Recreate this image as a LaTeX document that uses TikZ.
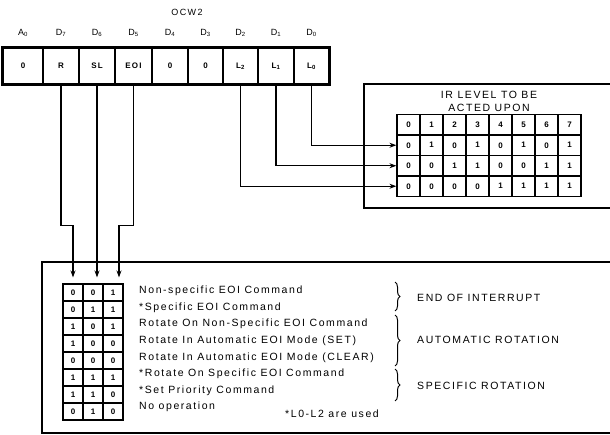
\documentclass[tikz,border=0pt]{standalone}
\usepackage{fontspec}
\setmainfont[LetterSpace=15]{Liberation Sans}
\usetikzlibrary{arrows.meta,decorations.pathreplacing}
\begin{document}
\begin{tikzpicture}[x=1pt,y=-1pt,
  reg/.style={draw, line width=1.2pt, minimum height=36pt, inner sep=0pt, font=\fontsize{8}{9}\selectfont\bfseries},
  lab/.style={font=\fontsize{9}{10}\selectfont, inner sep=0pt},
  gcell/.style={draw, line width=1.2pt, minimum width=23pt, minimum height=20.5pt, inner sep=0pt, font=\fontsize{8}{9}\selectfont\bfseries},
  scell/.style={draw, line width=1.1pt, minimum width=20pt, minimum height=17pt, inner sep=0pt, font=\fontsize{8}{9}\selectfont\bfseries},
  conn/.style={line width=1.2pt, -{Stealth[length=7pt,width=5pt]}},
  frame/.style={line width=2pt},
  txt/.style={font=\fontsize{10.5}{12}\selectfont, anchor=west, inner sep=0pt},
  ttl/.style={font=\fontsize{10.5}{12}\selectfont, inner sep=0pt},
  brace/.style={decorate, decoration={brace, amplitude=5pt}, line width=1pt}
]
\useasboundingbox (0,0) rectangle (610,435);

% OCW2 register
\node[lab] (title) at (187,12) {OCW2};
\foreach \nm/\cx/\w/\t/\h in {
  A0/23/40/0/A\textsubscript{0},
  R/61/36/R/D\textsubscript{7},
  SL/97/36/SL/D\textsubscript{6},
  EOI/133.5/37/EOI/D\textsubscript{5},
  D4/170/36/0/D\textsubscript{4},
  D3/205.5/35/0/D\textsubscript{3},
  L2/240.5/35/L\textsubscript{2}/D\textsubscript{2},
  L1/276/36/L\textsubscript{1}/D\textsubscript{1},
  L0/311.5/35/L\textsubscript{0}/D\textsubscript{0}}{
  \node[reg, minimum width=\w pt] (\nm) at (\cx,66) {\t};
  \node[lab] (h\nm) at (\cx,33) {\h};
}
\draw[frame] (A0.north west) rectangle (L0.south east);

% IR level box
\draw[frame] (610,84) -- (364,84) -- (364,208) -- (610,208);
\node[ttl] (irt1) at (489,95) {IR LEVEL TO BE};
\node[ttl] (irt2) at (489,108) {ACTED UPON};
\foreach \c in {0,...,7}{
  \node[gcell] (t0\c) at ({408.5+23*\c},124.75) {\c};
}
\foreach \r/\y/\v in {1/145.25/{0,1,0,1,0,1,0,1}, 2/165.75/{0,0,1,1,0,0,1,1}, 3/186.25/{0,0,0,0,1,1,1,1}}{
  \foreach \val [count=\c from 0] in \v {
    \node[gcell] (t\r\c) at ({408.5+23*\c},\y) {\val};
  }
}

% bottom box
\draw[frame] (610,262) -- (42,262) -- (42,432.5) -- (610,432.5);
\foreach \k/\a/\b/\cc/\t in {
  1/0/0/1/Non-specific EOI Command,
  2/0/1/1/*Specific EOI Command,
  3/1/0/1/Rotate On Non-Specific EOI Command,
  4/1/0/0/Rotate In Automatic EOI Mode (SET),
  5/0/0/0/Rotate In Automatic EOI Mode (CLEAR),
  6/1/1/1/*Rotate On Specific EOI Command,
  7/1/1/0/*Set Priority Command,
  8/0/1/0/No operation}{
  \node[scell] (s\k1) at (73,{292.5+17*(\k-1)}) {\a};
  \node[scell] (s\k2) at (93,{292.5+17*(\k-1)}) {\b};
  \node[scell] (s\k3) at (113,{292.5+17*(\k-1)}) {\cc};
  \node[txt] (m\k) at (139,{291+16.6*(\k-1)}) {\t};
}
\draw[brace] (395,282) -- (395,311);
\draw[brace] (395,315) -- (395,366);
\draw[brace] (395,369) -- (395,401);
\node[txt] (g1) at (417,298) {END OF INTERRUPT};
\node[txt] (g2) at (417,340) {AUTOMATIC ROTATION};
\node[txt] (g3) at (417,386) {SPECIFIC ROTATION};
\node[ttl] (note) at (332,414) {*L0-L2 are used};

% connectors
\draw[conn] (L0.south) |- (t10.west);
\draw[conn] (L1.south) |- (t20.west);
\draw[conn] (L2.south) |- (t30.west);
\draw[conn, shorten >=6pt] (R.south) -- ++(0,141) -| (s11.north);
\draw[conn, shorten >=6pt] (SL.south) -- (SL.south |- s12.north);
\draw[conn, shorten >=6pt] (EOI.south) -- ++(0,141) -| ([xshift=6pt]s13.north);
\end{tikzpicture}
\end{document}
